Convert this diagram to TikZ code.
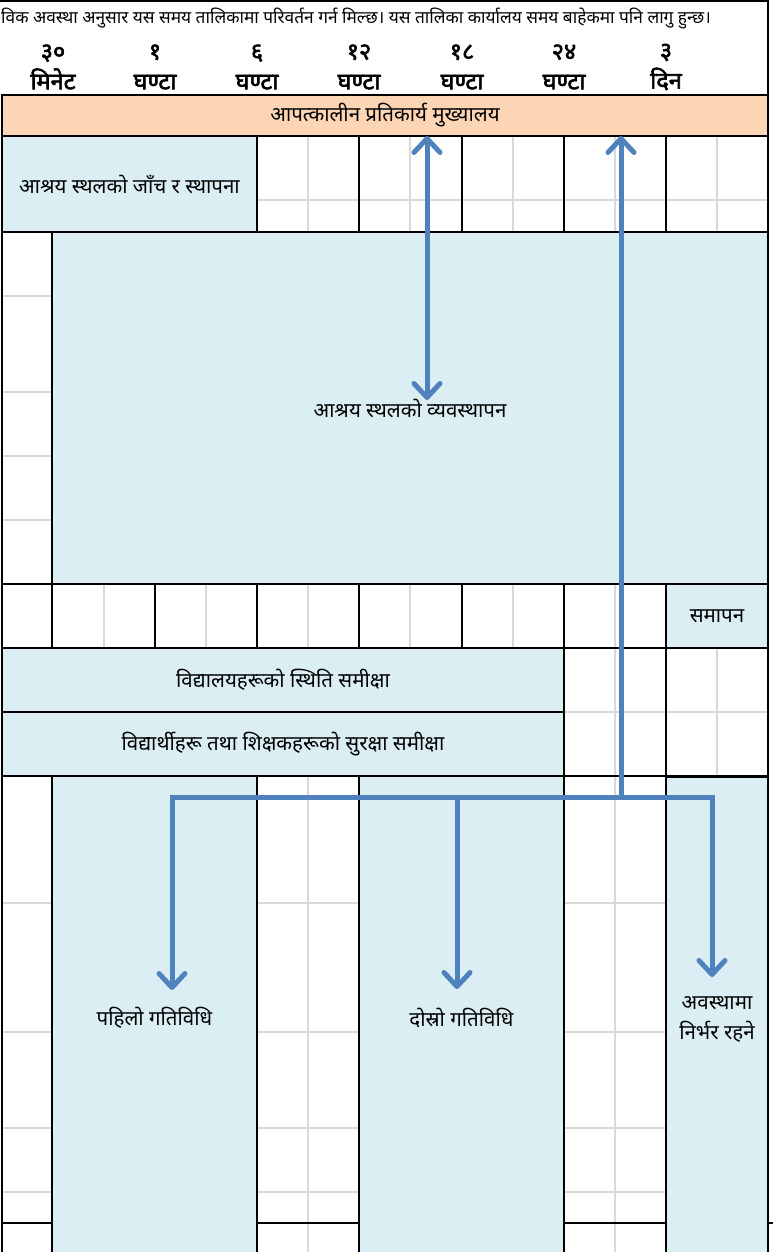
\documentclass[tikz,border=0pt]{standalone}
\usepackage{fontspec}
\newfontfamily\deva[Script=Devanagari]{Noto Sans}
\newfontfamily\devab[Script=Devanagari, FakeBold=2.5]{Noto Sans}
\usetikzlibrary{arrows.meta}
\definecolor{hqorange}{HTML}{FCD5B4}
\definecolor{taskblue}{HTML}{DAEEF3}
\definecolor{flowblue}{HTML}{4F81BD}
\definecolor{gridgrey}{HTML}{D9D9D9}

\begin{document}
\begin{tikzpicture}[x=1pt, y=-1pt,
        hqnode/.style={rectangle, draw=black, line width=1.6pt, fill=hqorange, inner sep=0pt, outer sep=0pt, font=\deva\fontsize{20.5}{24}\selectfont},
        tasknode/.style={rectangle, draw=black, line width=1.6pt, fill=taskblue, inner sep=0pt, outer sep=0pt, align=center, font=\deva\fontsize{20.5}{30}\selectfont},
        timenode/.style={align=center, inner sep=0pt, font=\devab\fontsize{23.5}{30}\selectfont},
        cell/.style={draw=black, line width=1.6pt},
        gridline/.style={draw=gridgrey, line width=1.3pt},
        flow/.style={draw=flowblue, line width=5pt},
        >={Straight Barb[round, length=14pt, width=26pt]},
        ]
        \clip (0,0) rectangle (773,1252);

        %Grid
        \foreach \gx in {104,206,308,410,513,615,717}
            \draw[gridline] (\gx,136) -- (\gx,1252);
        \foreach \gy in {200,296,392,456,520,712,903,1032,1128,1192}
            \draw[gridline] (2,\gy) -- (768,\gy);

        %Cells
        \draw[cell] (0,1) -- (768,1) -- (768,95);
        \foreach \a/\b in {257/359, 359/462, 462/564, 564/666, 666/768}
            \draw[cell] (\a,136) rectangle (\b,232);
        \draw[cell] (2,232) rectangle (52,584);
        \foreach \a/\b in {2/52, 52/155, 155/257, 257/359, 359/462, 462/564, 564/666}
            \draw[cell] (\a,584) rectangle (\b,648);
        \draw[cell] (564,648) rectangle (666,776);
        \draw[cell] (666,648) rectangle (768,776);
        \foreach \a/\b in {2/52, 257/359, 564/666} {
            \draw[cell] (\a,776) rectangle (\b,1223);
            \draw[cell] (\a,1223) rectangle (\b,1260);
        }
        \draw[cell] (768,1223) -- (773,1223);

        %Nodes
        \node[anchor=west, inner sep=0pt, font=\deva\fontsize{17.3}{20}\selectfont] (note) at (1,18)
            {विक अवस्था अनुसार यस समय तालिकामा परिवर्तन गर्न मिल्छ। यस तालिका कार्यालय समय बाहेकमा पनि लागु हुन्छ।};
        \node[timenode] (t30m) at (53,67)  {३०\\मिनेट};
        \node[timenode] (t1h)  at (155,67) {१\\घण्टा};
        \node[timenode] (t6h)  at (257,67) {६\\घण्टा};
        \node[timenode] (t12h) at (359,67) {१२\\घण्टा};
        \node[timenode] (t18h) at (462,67) {१८\\घण्टा};
        \node[timenode] (t24h) at (564,67) {२४\\घण्टा};
        \node[timenode] (t3d)  at (666,67) {३\\दिन};

        \node[hqnode, minimum width=766pt, minimum height=41pt]   (hq)    at (385,115.5)  {आपत्कालीन प्रतिकार्य मुख्यालय};
        \node[tasknode, minimum width=255pt, minimum height=96pt] (check) at (129.5,184)   {आश्रय स्थलको जाँच र स्थापना};
        \node[tasknode, minimum width=716pt, minimum height=352pt] (manage) at (410,408)   {आश्रय स्थलको व्यवस्थापन};
        \node[tasknode, minimum width=102pt, minimum height=64pt] (close) at (717,616)     {समापन};
        \node[tasknode, minimum width=562pt, minimum height=64pt] (school) at (283,680)   {विद्यालयहरूको स्थिति समीक्षा};
        \node[tasknode, minimum width=562pt, minimum height=64pt] (safety) at (283,744)   {विद्यार्थीहरू तथा शिक्षकहरूको सुरक्षा समीक्षा};
        \node[tasknode, minimum width=205pt, minimum height=484pt] (first) at (154.5,1018) {पहिलो गतिविधि};
        \node[tasknode, minimum width=205pt, minimum height=484pt] (second) at (461.5,1018) {दोस्रो गतिविधि};
        \node[tasknode, minimum width=102pt, minimum height=484pt] (depend) at (717,1019)  {अवस्थामा\\निर्भर रहने};

        %Lines
        \coordinate (tipm) at (427,400);
        \coordinate (hub)  at (621,797);
        \coordinate (tipa) at (172,990);
        \coordinate (tipb) at (457,989);
        \coordinate (tipc) at (712,977);

        \draw[flow, <->] (hq.south -| tipm) -- (tipm);
        \draw[flow, ->]  (hub) -- (hq.south -| hub);
        \draw[flow, ->]  (hub) -| (tipa);
        \draw[flow, ->]  (hub) -| (tipc);
        \draw[flow, ->]  (hub -| tipb) -- (tipb);
\end{tikzpicture}
\end{document}
